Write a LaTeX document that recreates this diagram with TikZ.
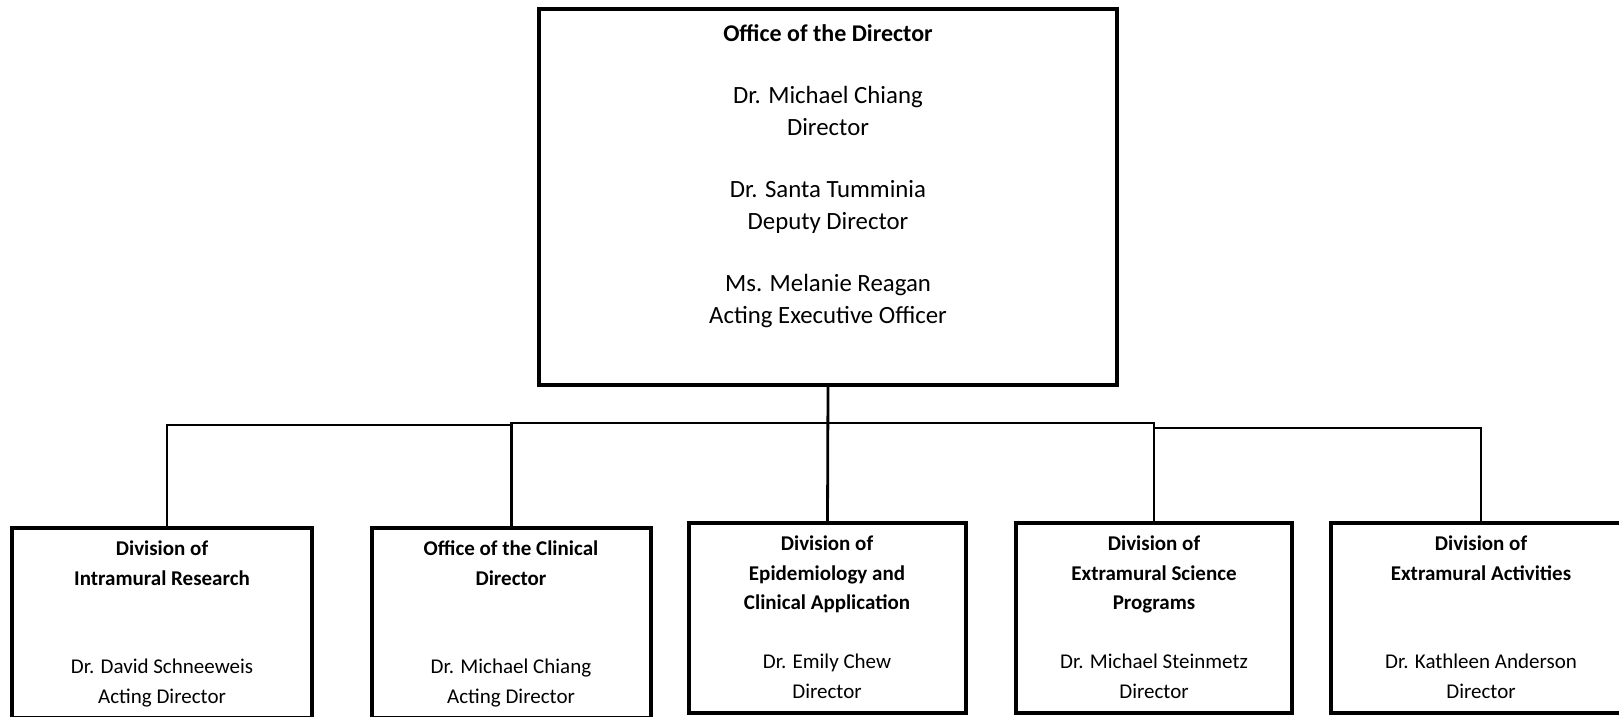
\documentclass[tikz,border=0pt]{standalone}
\usepackage{fontspec}
\setmainfont{Carlito}
\begin{document}
\begin{tikzpicture}[x = 1pt, y = -1pt,
        box/.style = {draw, line width = 3.3pt, outer sep = 0pt, anchor = north west},
        link/.style = {line width = 2.8pt},
        toptext/.style = {anchor = base, align = center, inner sep = 0pt, font = \fontsize{24.8}{31.3}\selectfont},
        subtext/.style = {anchor = base, align = center, inner sep = 0pt, font = \fontsize{21}{29.5}\selectfont}]
    \useasboundingbox (0, 0) rectangle (1619, 716);
    \clip (0, 0) rectangle (1619, 716);
    \node[box, minimum width = 578pt, minimum height = 376pt] (od) at (539, 9) {};
        \node[toptext] (odtext) at (828, 323) {
                {\fontsize{24}{31.3}\selectfont\bfseries Office of the Director}\\ ~\\
                Dr. Michael Chiang\\ Director\\ ~\\
                Dr. Santa Tumminia\\ Deputy Director\\ ~\\
                Ms. Melanie Reagan\\ Acting Executive Officer
            };
    \node[box, minimum width = 300pt, minimum height = 190pt] (dir) at (12, 528) {};
        \node[subtext] (dirtext) at (162, 703) {
                \textbf{Division of}\\ \textbf{Intramural Research}\\ ~\\ ~\\
                Dr. David Schneeweis\\ Acting Director
            };
    \node[box, minimum width = 279pt, minimum height = 190pt] (ocd) at (372, 528) {};
        \node[subtext] (ocdtext) at (511, 703) {
                \textbf{Office of the Clinical}\\ \textbf{Director}\\ ~\\ ~\\
                Dr. Michael Chiang\\ Acting Director
            };
    \node[box, minimum width = 277pt, minimum height = 190pt] (deca) at (689, 523) {};
        \node[subtext] (decatext) at (827, 698) {
                \textbf{Division of}\\ \textbf{Epidemiology and}\\ \textbf{Clinical Application}\\ ~\\
                Dr. Emily Chew\\ Director
            };
    \node[box, minimum width = 276pt, minimum height = 190pt] (desp) at (1016, 523) {};
        \node[subtext] (desptext) at (1154, 698) {
                \textbf{Division of}\\ \textbf{Extramural Science}\\ \textbf{Programs}\\ ~\\
                Dr. Michael Steinmetz\\ Director
            };
    \node[box, minimum width = 300pt, minimum height = 190pt] (dea) at (1331, 523) {};
        \node[subtext] (deatext) at (1481, 698) {
                \textbf{Division of}\\ \textbf{Extramural Activities}\\ ~\\ ~\\
                Dr. Kathleen Anderson\\ Director
            };
    \draw[link] (od.south) -- (deca.north);
    \draw[link] (od.south) ++(0, 38) -| (ocd.north);
    \draw[link] (ocd.north) ++(0, -103) -| ([xshift = 5pt]dir.north);
    \draw[link] (od.south) ++(0, 38) -| (desp.north);
    \draw[link] (desp.north) ++(0, -95) -| (dea.north);
\end{tikzpicture}
\end{document}
